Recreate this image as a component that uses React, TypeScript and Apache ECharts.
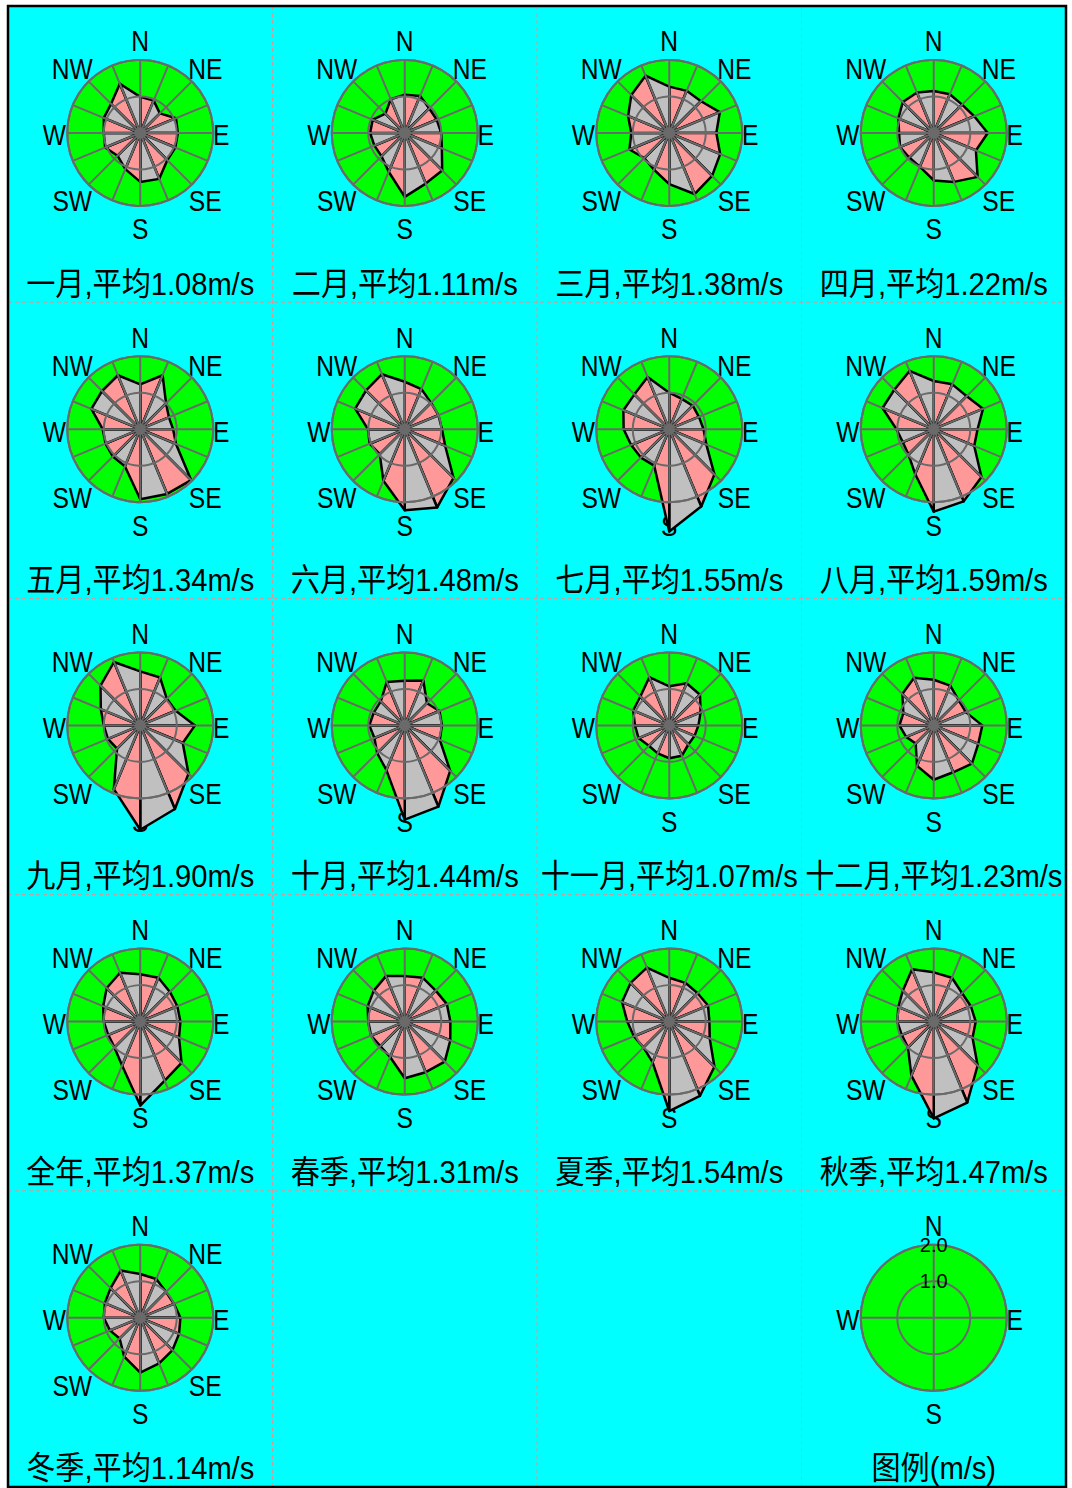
import React, { useEffect, useRef } from "react";
import * as echarts from "echarts";

// 16 compass directions, clockwise from north
const DIRECTIONS = ["N", "NNE", "NE", "ENE", "E", "ESE", "SE", "SSE", "S", "SSW", "SW", "WSW", "W", "WNW", "NW", "NNW"];
const COMPASS_LABELS = ["N", "NE", "E", "SE", "S", "SW", "W", "NW"];
const LEGEND_LABELS = ["N", "E", "S", "W"];

// mean wind speed (m/s) per direction, in DIRECTIONS order
const JAN = [0.99, 0.96, 0.76, 1.06, 1.03, 1.04, 1.05, 1.36, 1.34, 1.07, 0.88, 1.04, 1.0, 1.08, 1.13, 1.46];
const FEB = [1.05, 1.1, 0.95, 0.95, 1.0, 1.1, 1.45, 1.5, 1.75, 1.15, 0.9, 0.9, 0.95, 0.95, 0.75, 1.0];
const MAR = [1.27, 1.25, 1.23, 1.5, 1.29, 1.51, 1.66, 1.81, 1.4, 1.09, 0.97, 1.18, 1.04, 1.22, 1.47, 1.7];
const APR = [1.15, 1.15, 1.1, 1.2, 1.48, 1.25, 1.7, 1.45, 1.3, 1.0, 0.95, 1.0, 0.95, 1.05, 1.2, 1.2];
const MAY = [1.23, 1.6, 1.0, 0.85, 0.9, 1.06, 1.97, 1.92, 1.92, 1.1, 1.06, 1.03, 1.03, 1.45, 1.48, 1.6];
const JUN = [1.3, 1.19, 1.02, 1.0, 1.02, 1.2, 1.89, 2.32, 2.22, 1.53, 0.97, 1.04, 1.01, 1.47, 1.5, 1.63];
const JUL = [1.0, 0.9, 0.91, 0.88, 0.94, 1.1, 1.75, 2.29, 2.8, 1.08, 1.1, 1.13, 1.25, 1.36, 1.35, 1.55];
const AUG = [1.32, 1.33, 1.28, 1.46, 1.2, 1.2, 1.85, 2.14, 2.26, 1.33, 0.98, 0.92, 1.02, 1.52, 1.53, 1.73];
const SEP = [1.48, 1.42, 1.03, 1.05, 1.5, 1.26, 1.87, 2.48, 2.86, 1.89, 0.9, 0.96, 1.0, 1.17, 1.54, 1.88];
const OCT = [1.22, 1.33, 0.86, 1.03, 1.02, 1.04, 1.76, 2.41, 2.58, 1.32, 1.07, 0.9, 0.97, 0.92, 0.93, 1.29];
const NOV = [1.07, 1.25, 1.19, 0.93, 0.8, 0.75, 0.74, 0.9, 0.9, 0.83, 0.79, 0.91, 0.94, 1.07, 1.12, 1.43];
const DEC = [1.25, 1.18, 0.97, 0.95, 1.33, 1.32, 1.48, 1.39, 1.49, 1.2, 0.7, 0.82, 0.94, 0.9, 1.22, 1.41];
const YEAR = [1.3, 1.3, 1.15, 1.1, 1.1, 1.15, 1.6, 1.75, 2.3, 1.3, 1.0, 0.95, 1.0, 1.1, 1.3, 1.45];
const SPRING = [1.25, 1.3, 1.2, 1.25, 1.25, 1.35, 1.55, 1.5, 1.55, 1.05, 0.95, 1.0, 1.0, 1.1, 1.2, 1.35];
const SUMMER = [1.2, 1.15, 1.1, 1.15, 1.1, 1.2, 1.75, 2.2, 2.45, 1.2, 1.0, 1.05, 1.15, 1.4, 1.5, 1.6];
const AUTUMN = [1.35, 1.3, 1.1, 1.1, 1.15, 1.15, 1.7, 2.4, 2.65, 1.6, 1.0, 0.95, 1.0, 1.05, 1.2, 1.55];
const WINTER = [1.2, 1.15, 1.0, 1.0, 1.1, 1.15, 1.25, 1.35, 1.5, 1.15, 0.8, 0.9, 1.0, 1.05, 1.15, 1.4];

const PANEL_TITLES = [
  "一月,平均1.08m/s", "二月,平均1.11m/s", "三月,平均1.38m/s", "四月,平均1.22m/s",
  "五月,平均1.34m/s", "六月,平均1.48m/s", "七月,平均1.55m/s", "八月,平均1.59m/s",
  "九月,平均1.90m/s", "十月,平均1.44m/s", "十一月,平均1.07m/s", "十二月,平均1.23m/s",
  "全年,平均1.37m/s", "春季,平均1.31m/s", "夏季,平均1.54m/s", "秋季,平均1.47m/s",
  "冬季,平均1.14m/s",
];
const PANEL_VALUES = [JAN, FEB, MAR, APR, MAY, JUN, JUL, AUG, SEP, OCT, NOV, DEC, YEAR, SPRING, SUMMER, AUTUMN, WINTER];
const LEGEND_TITLE = "图例(m/s)";
const LEGEND_SLOT = 19;
const SPEED_MAX = 2;
const SPEED_STEP = 1;

// page layout
const WIDTH = 1072;
const HEIGHT = 1488;
const FRAME = { left: 8, top: 6, right: 1066, bottom: 1487 };
const COLS = 4;
const ROWS = 5;
const CELL_W = (FRAME.right - FRAME.left) / COLS;
const CELL_H = (FRAME.bottom - FRAME.top) / ROWS;
const ROSE_R = 73;
const ROSE_DY = 127;
const TITLE_DY = 277;

// where each compass label sits relative to the rose centre (px)
const LABEL_OFFSET: Record<string, [number, number]> = {
  N: [0, -92],
  NE: [65, -64],
  E: [81, 2],
  SE: [65, 68],
  S: [0, 96],
  SW: [-68, 68],
  W: [-86, 2],
  NW: [-68, -64],
};

const PINK = "#ff9999";
const GREY = "#c0c0c0";
const GREEN = "#00ff00";
const CYAN = "#00ffff";
const GRID = "#6a6a6a";
const LATIN = "'Liberation Sans', 'Noto Sans CJK SC', sans-serif";

function cellOrigin(slot: number) {
  const row = Math.floor(slot / COLS);
  const col = slot % COLS;
  return {
    x: FRAME.left + CELL_W * (col + 0.5),
    top: FRAME.top + CELL_H * row,
  };
}

function buildOption() {
  const polar: any[] = [];
  const angleAxis: any[] = [];
  const radiusAxis: any[] = [];
  const series: any[] = [];
  const graphic: any[] = [];

  graphic.push({
    type: "rect",
    z: -2,
    shape: { x: FRAME.left, y: FRAME.top, width: FRAME.right - FRAME.left, height: FRAME.bottom - FRAME.top },
    style: { fill: CYAN },
  });
  for (let c = 1; c < COLS; c++) {
    const x = FRAME.left + CELL_W * c;
    graphic.push({
      type: "line",
      z: -1,
      shape: { x1: x, y1: FRAME.top, x2: x, y2: FRAME.bottom },
      style: { stroke: "#d09a9a", lineWidth: 1, lineDash: [4, 3] },
    });
  }
  for (let r = 1; r < ROWS; r++) {
    const y = FRAME.top + CELL_H * r;
    graphic.push({
      type: "line",
      z: -1,
      shape: { x1: FRAME.left, y1: y, x2: FRAME.right, y2: y },
      style: { stroke: "#d09a9a", lineWidth: 1, lineDash: [4, 3] },
    });
  }
  graphic.push({
    type: "rect",
    z: 10,
    shape: { x: FRAME.left, y: FRAME.top, width: FRAME.right - FRAME.left, height: FRAME.bottom - FRAME.top },
    style: { fill: "none", stroke: "#000", lineWidth: 2.5 },
  });

  const addRose = (slot: number, values: number[] | null, title: string) => {
    const idx = polar.length;
    const { x, top } = cellOrigin(slot);
    const cy = top + ROSE_DY;
    polar.push({ center: [x, cy], radius: ROSE_R });
    const isLegend = values === null;
    angleAxis.push({
      polarIndex: idx,
      type: "value",
      min: 0,
      max: 360,
      interval: isLegend ? 90 : 22.5,
      startAngle: 90,
      clockwise: true,
      z: 5,
      axisLine: { show: true, lineStyle: { color: GRID, width: 2 } },
      axisTick: { show: false },
      splitLine: { show: true, lineStyle: { color: GRID, width: 2 } },
      axisLabel: { show: false },
    });
    radiusAxis.push({
      polarIndex: idx,
      type: "value",
      min: 0,
      max: SPEED_MAX,
      interval: SPEED_STEP,
      z: 5,
      axisLine: { show: false },
      axisTick: { show: false },
      splitLine: { show: true, lineStyle: { color: GRID, width: 2 } },
      axisLabel: isLegend
        ? {
            show: true,
            margin: 0,
            align: "center",
            verticalAlign: "middle",
            color: "#000",
            fontSize: 20,
            fontFamily: LATIN,
            showMaxLabel: true,
            formatter: (v: number) => (v === 0 ? "" : v.toFixed(1)),
          }
        : { show: false },
    });

    // compass labels (drawn beneath the roses)
    (isLegend ? LEGEND_LABELS : COMPASS_LABELS).forEach((name) => {
      const [dx, dy] = LABEL_OFFSET[name];
      graphic.push({
        type: "text",
        z: 0,
        x: x + dx,
        y: cy + dy,
        scaleX: 0.82,
        style: {
          text: name,
          fill: "#000",
          fontSize: 30,
          fontFamily: LATIN,
          align: "center",
          verticalAlign: "middle",
        },
      });
    });

    // green disc behind the rose
    series.push({
      type: "custom",
      coordinateSystem: "polar",
      polarIndex: idx,
      z: 1,
      silent: true,
      clip: false,
      data: [[SPEED_MAX, 0]],
      encode: { radius: 0, angle: 1 },
      renderItem: (params: any, api: any) => {
        const cs = params.coordSys;
        const edge = api.coord([api.value(0), api.value(1)]);
        return {
          type: "circle",
          shape: { cx: cs.cx, cy: cs.cy, r: Math.hypot(edge[0] - cs.cx, edge[1] - cs.cy) },
          style: { fill: GREEN },
        };
      },
    });

    if (values) {
      const n = DIRECTIONS.length;
      const sector = 360 / n;
      series.push({
        type: "custom",
        name: title,
        coordinateSystem: "polar",
        polarIndex: idx,
        z: 2,
        silent: true,
        clip: false,
        data: values.map((v, j) => [v, j * sector, values[(j + 1) % n], (j + 1) * sector, j]),
        encode: { radius: 0, angle: 1 },
        renderItem: (params: any, api: any) => {
          const cs = params.coordSys;
          const p0 = api.coord([api.value(0), api.value(1)]);
          const p1 = api.coord([api.value(2), api.value(3)]);
          return {
            type: "polygon",
            shape: { points: [[cs.cx, cs.cy], p0, p1] },
            style: {
              fill: api.value(4) % 2 === 0 ? PINK : GREY,
              stroke: "#000",
              lineWidth: 2.5,
              lineJoin: "round",
            },
          };
        },
      });
    }

    graphic.push({
      type: "text",
      z: 0,
      x,
      y: top + TITLE_DY,
      scaleX: 0.91,
      style: {
        text: title,
        fill: "#000",
        fontSize: 32,
        fontFamily: LATIN,
        align: "center",
        verticalAlign: "middle",
      },
    });
  };

  PANEL_VALUES.forEach((vals, i) => addRose(i, vals, PANEL_TITLES[i]));
  addRose(LEGEND_SLOT, null, LEGEND_TITLE);

  return {
    animation: false,
    backgroundColor: "#ffffff",
    polar,
    angleAxis,
    radiusAxis,
    series,
    graphic,
  };
}

export default function App() {
  const ref = useRef<HTMLDivElement>(null);
  useEffect(() => {
    if (!ref.current) return;
    const chart = echarts.init(ref.current, undefined, { renderer: "svg", width: WIDTH, height: HEIGHT });
    chart.setOption(buildOption() as any);
    return () => chart.dispose();
  }, []);
  return (
    <div
      ref={ref}
      style={{ position: "absolute", left: 0, top: 0, width: WIDTH, height: HEIGHT }}
    />
  );
}
